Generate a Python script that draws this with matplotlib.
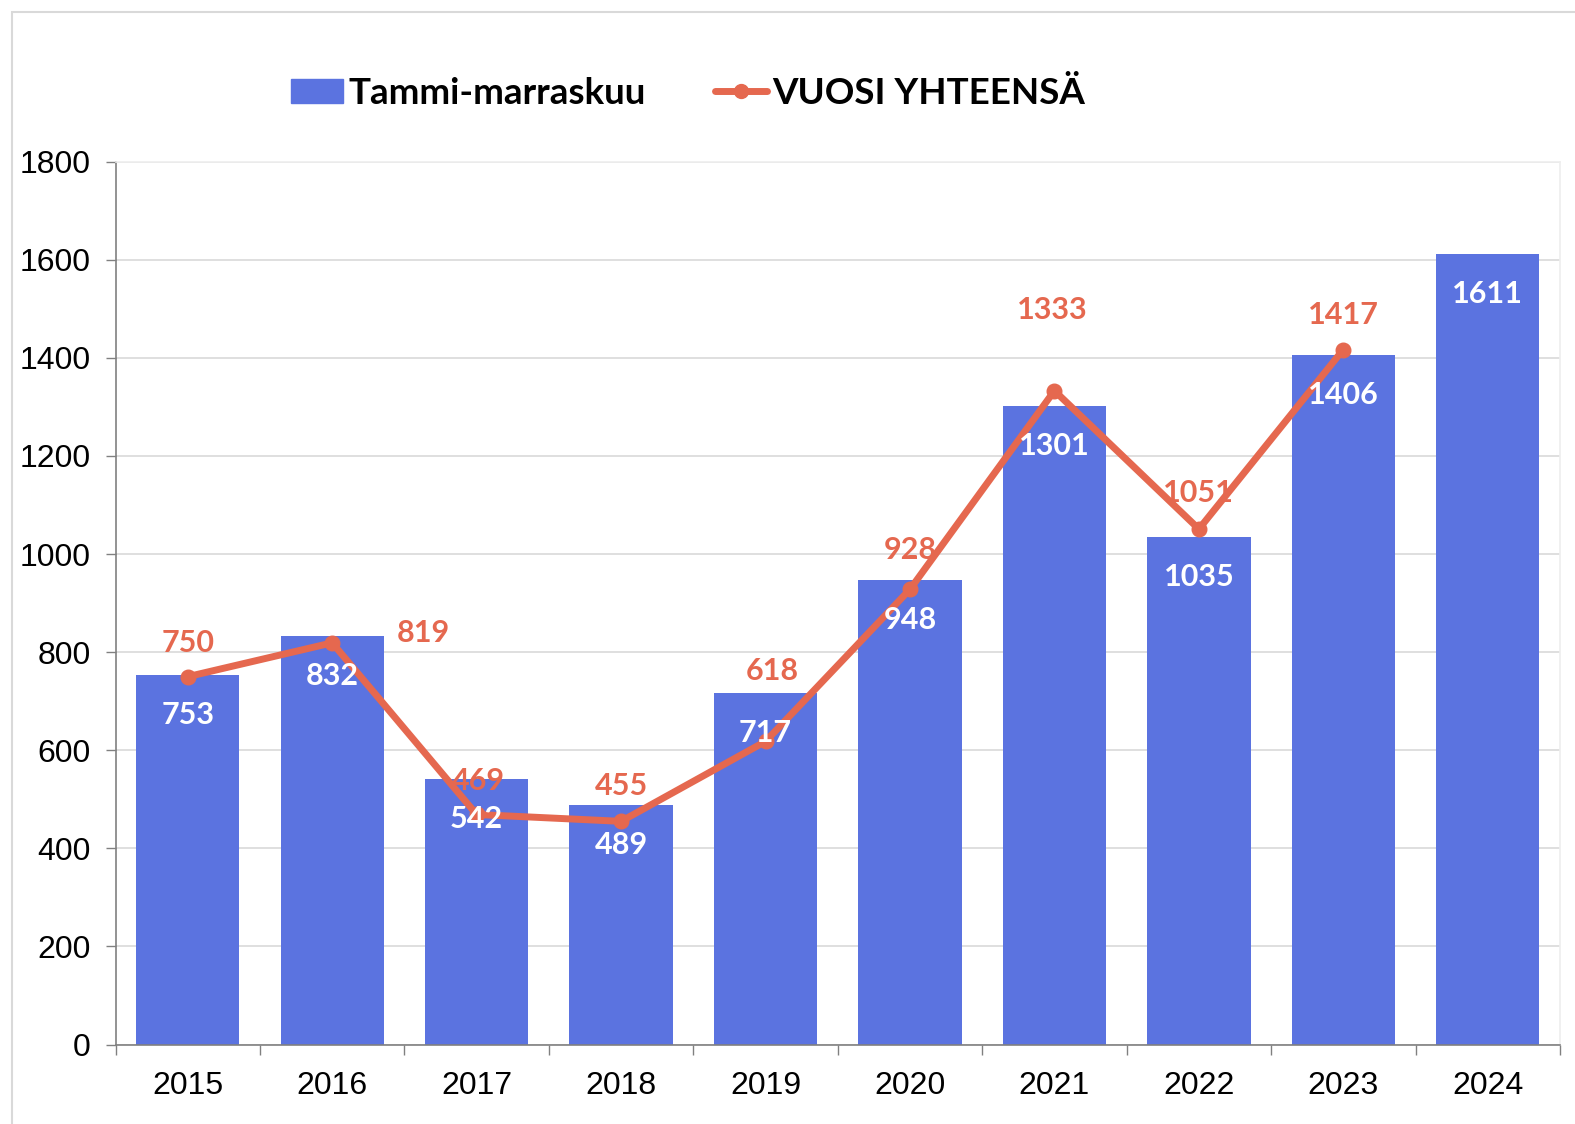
import matplotlib
matplotlib.use('Agg')
import matplotlib.pyplot as plt
from matplotlib.patches import Rectangle
from matplotlib.lines import Line2D
from matplotlib.ticker import FixedLocator

# data
years = ['2015', '2016', '2017', '2018', '2019', '2020', '2021', '2022', '2023', '2024']
tammi_marras = [753, 832, 542, 489, 717, 948, 1301, 1035, 1406, 1611]
vuosi_yht = [750, 819, 469, 455, 618, 928, 1333, 1051, 1417]
y_ticks = [0, 200, 400, 600, 800, 1000, 1200, 1400, 1600, 1800]

# label nudges in pixels (dx, dy), as placed in the original
line_label_offsets = [(0, 34), (91, 10), (2, 33), (0, 35), (7, 70),
                      (0, 39), (-2, 81), (0, 36), (0, 35)]

BAR = '#5B73E0'
LINE = '#E5684F'
LABEL_FONT = ['Lato', 'DejaVu Sans']

plt.rcParams['font.family'] = ['Liberation Sans', 'DejaVu Sans']

fig = plt.figure(figsize=(15.75, 11.24), dpi=100)
left, right, bottom, top = 115.5, 1560, 1044.5, 161.7
ax = fig.add_axes([left / 1575, 1 - bottom / 1124, (right - left) / 1575, (bottom - top) / 1124])

x = list(range(len(years)))
ax.bar(x, tammi_marras, width=0.715, color=BAR, zorder=2)
ax.plot(x[:len(vuosi_yht)], vuosi_yht, color=LINE, lw=5, marker='o', ms=10.5, zorder=3,
        solid_capstyle='round')

for xi, v in zip(x, tammi_marras):
    ax.annotate(str(v), (xi, v), xytext=(0, -40), textcoords='offset pixels',
                ha='center', va='center', color='white', fontsize=22,
                fontweight='bold', family=LABEL_FONT, zorder=4)

for xi, v, (dx, dy) in zip(x, vuosi_yht, line_label_offsets):
    ax.annotate(str(v), (xi, v), xytext=(dx, dy), textcoords='offset pixels',
                ha='center', va='center', color=LINE, fontsize=22,
                fontweight='bold', family=LABEL_FONT, zorder=2.5)

ax.set_xlim(-0.5, len(years) - 0.5)
ax.set_ylim(0, 1800)
ax.set_yticks(y_ticks)
ax.set_xticks(x)
ax.set_xticklabels(years)
ax.xaxis.set_minor_locator(FixedLocator([i - 0.5 for i in range(len(years) + 1)]))
ax.tick_params(axis='x', which='major', length=0, pad=19, labelsize=23)
ax.tick_params(axis='x', which='minor', length=7, width=1, color='#808080', direction='out')
ax.tick_params(axis='y', length=7, width=1, color='#808080', pad=11, labelsize=23)

ax.grid(axis='y', color='#d9d9d9', lw=1.2, zorder=0)
ax.set_axisbelow(True)
for side in ['left', 'bottom']:
    ax.spines[side].set_color('#808080')
    ax.spines[side].set_linewidth(1.2)
for side in ['top', 'right']:
    ax.spines[side].set_color('#eeeeee')
    ax.spines[side].set_linewidth(1.2)

handles = [Rectangle((0, 0), 1, 1, color=BAR),
           Line2D([], [], color=LINE, lw=5, marker='o', ms=10, solid_capstyle='round')]
fig.legend(handles, ['Tammi-marraskuu', 'VUOSI YHTEENSÄ'], loc='center',
           bbox_to_anchor=(0.437, 0.917), ncol=2, frameon=False,
           prop={'family': LABEL_FONT, 'weight': 'bold', 'size': 26.5},
           handlelength=1.4, handleheight=0.6, handletextpad=0.15, columnspacing=1.9)

# light outer frame of the chart area
fig.patches.append(Rectangle((12 / 1575, -0.01), 1.02, 1 - 12 / 1124 + 0.01,
                             transform=fig.transFigure, fill=False,
                             edgecolor='#d9d9d9', lw=1.5))

fig.savefig('out.png', dpi=100)
